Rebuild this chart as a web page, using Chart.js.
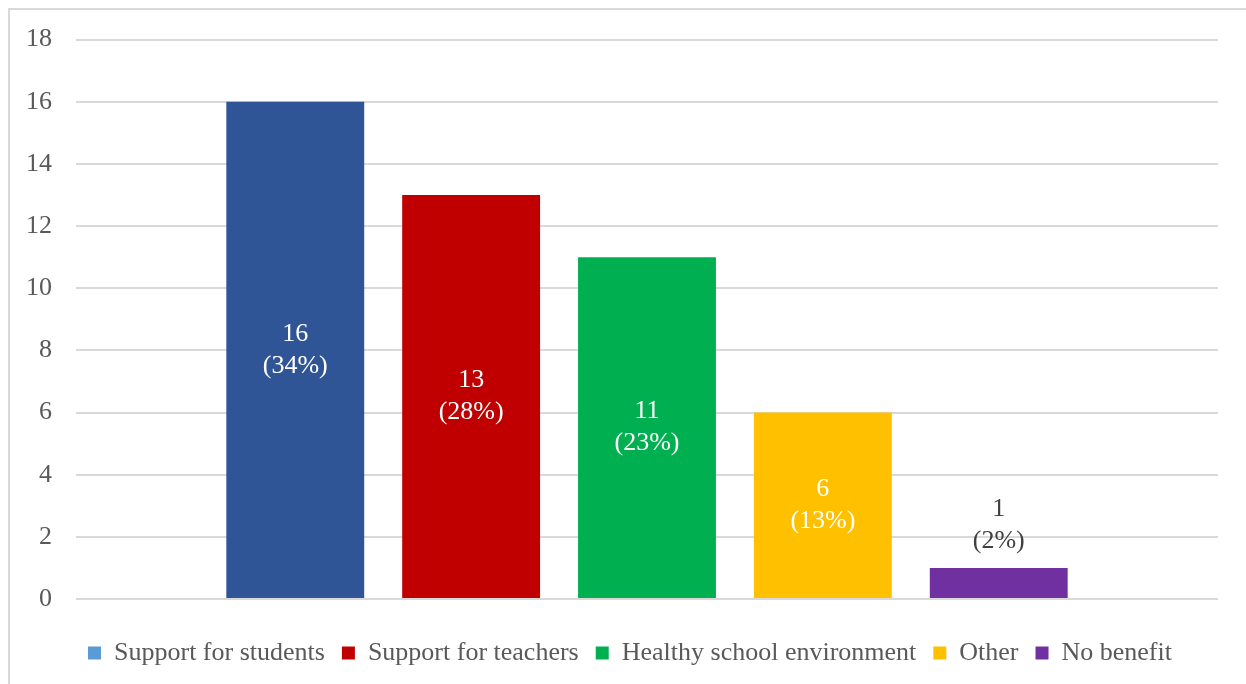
<!DOCTYPE html>
<html>
<head>
<meta charset="utf-8">
<script src="https://cdn.jsdelivr.net/npm/chart.js@4.4.0/dist/chart.umd.min.js"></script>
<style>
  html, body { margin: 0; padding: 0; background: #fff; overflow: hidden; }
  #wrap { position: relative; width: 1246px; height: 684px; }
  #frame { position: absolute; left: 8px; top: 8px; width: 1300px; height: 700px; border: 2px solid #d9d9d9; box-sizing: border-box; }
  canvas { position: absolute; left: 0; top: 0; }
</style>
</head>
<body>
<div id="wrap">
  <div id="frame"></div>
  <canvas id="chart" width="1246" height="684"></canvas>
</div>
<script>
var seriesNames = ['Support for students', 'Support for teachers', 'Healthy school environment', 'Other', 'No benefit'];
var seriesValues = [16, 13, 11, 6, 1];
var percentLabels = ['(34%)', '(28%)', '(23%)', '(13%)', '(2%)'];
var barColors = ['#2F5597', '#C00000', '#00B050', '#FFC000', '#7030A0'];
var legendColors = ['#5B9BD5', '#C00000', '#00B050', '#FFC000', '#7030A0'];
var yTicks = [0, 2, 4, 6, 8, 10, 12, 14, 16, 18];

var serif = "'Liberation Serif', 'Times New Roman', serif";

var datasets = [];
for (var i = 0; i < seriesNames.length; i++) {
    datasets.push({
        label: seriesNames[i],
        data: [seriesValues[i]],
        backgroundColor: barColors[i],
        borderWidth: 0,
        categoryPercentage: 0.77,
        barPercentage: 0.784
    });
}

// value + percent labels, inside the bar when it is tall enough
var barLabels = {
    id: 'barLabels',
    afterDatasetsDraw: function(chart) {
        var ctx = chart.ctx;
        ctx.save();
        ctx.font = '26px ' + serif;
        ctx.textAlign = 'center';
        ctx.textBaseline = 'middle';
        chart.data.datasets.forEach(function(ds, i) {
            var bar = chart.getDatasetMeta(i).data[0];
            var h = bar.base - bar.y;
            var cy;
            if (h > 80) {
                ctx.fillStyle = '#ffffff';
                cy = (bar.y + bar.base) / 2;
            } else {
                ctx.fillStyle = '#404040';
                cy = bar.y - 43;
            }
            ctx.fillText(String(ds.data[0]), bar.x, cy - 16);
            ctx.fillText(percentLabels[i], bar.x, cy + 16);
        });
        ctx.restore();
    }
};

// legend is centred on the whole frame, not only on the padded area
var shiftLegend = {
    id: 'shiftLegend',
    afterLayout: function(chart) {
        if (chart.legend) {
            chart.legend.left += 21;
            chart.legend.right += 21;
        }
    }
};

var config = {
    type: 'bar',
    data: {
        labels: [''],
        datasets: datasets
    },
    options: {
        responsive: false,
        animation: false,
        layout: { padding: { left: 0, right: 28, top: 38, bottom: 8 } },
        plugins: {
            legend: {
                position: 'bottom',
                labels: {
                    font: { family: serif, size: 26 },
                    color: '#595959',
                    boxWidth: 13,
                    boxHeight: 13,
                    padding: 17,
                    generateLabels: function(chart) {
                        return chart.data.datasets.map(function(ds, i) {
                            return {
                                text: ds.label,
                                fillStyle: legendColors[i],
                                strokeStyle: legendColors[i],
                                lineWidth: 0,
                                fontColor: '#595959',
                                datasetIndex: i
                            };
                        });
                    }
                }
            },
            tooltip: { enabled: false }
        },
        scales: {
            x: {
                display: true,
                grid: { display: false },
                border: { display: false },
                ticks: { display: false },
                afterFit: function(axis) { axis.height = 24; }
            },
            y: {
                min: 0,
                max: 18,
                afterBuildTicks: function(axis) {
                    axis.ticks = yTicks.map(function(v) { return { value: v }; });
                },
                afterFit: function(axis) { axis.width = 76; },
                border: { display: false },
                grid: { color: '#d9d9d9', lineWidth: 2, drawTicks: false },
                ticks: {
                    font: { family: serif, size: 26 },
                    color: '#595959',
                    padding: 24
                }
            }
        }
    },
    plugins: [barLabels, shiftLegend]
};

var chart = new Chart(document.getElementById('chart'), config);
</script>
</body>
</html>
